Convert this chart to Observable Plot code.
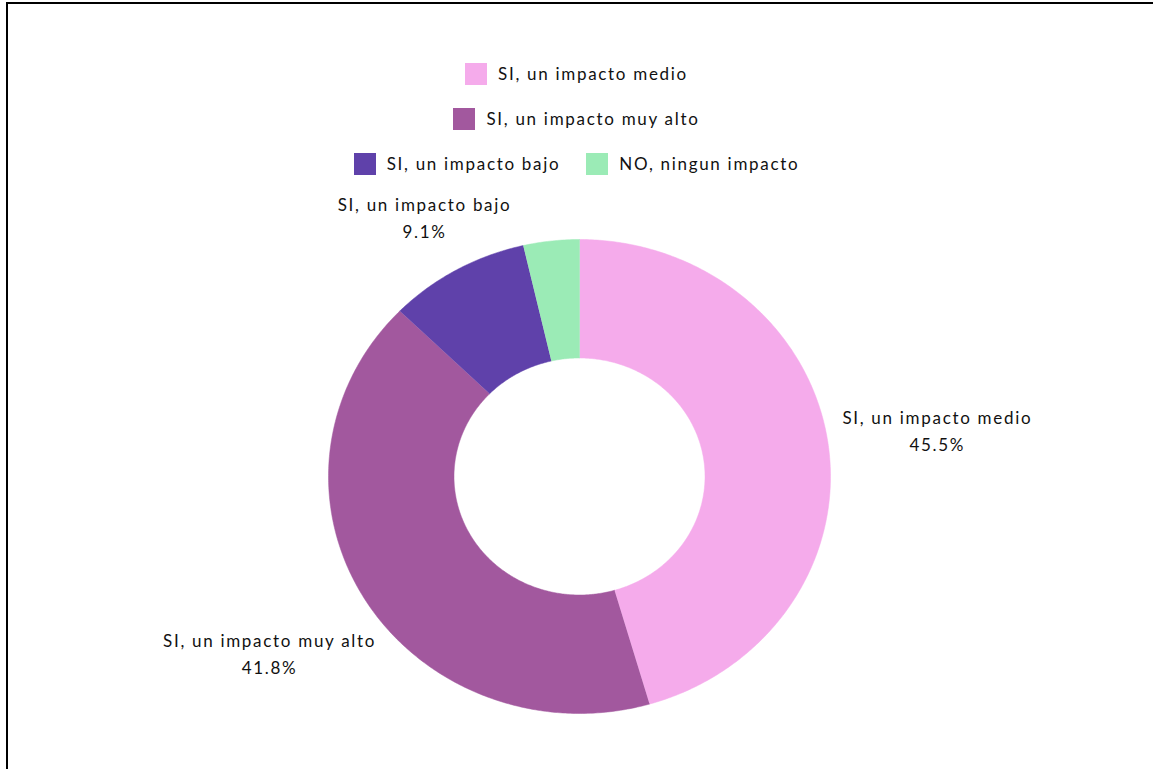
<!DOCTYPE html>
<html><head><meta charset="utf-8">
<script src="https://cdn.jsdelivr.net/npm/d3@7"></script>
<script src="https://cdn.jsdelivr.net/npm/@observablehq/plot@0.6"></script>
<style>
body{margin:0;background:#fff;font-family:Lato,sans-serif;color:#111;}
#wrap{position:relative;width:1153px;height:769px;overflow:hidden;background:#fff;}
#frame{position:absolute;left:6px;top:2px;right:-10px;bottom:-10px;border-top:2px solid #000;border-left:2px solid #000;pointer-events:none;}
#legend{height:190px;box-sizing:border-box;padding-top:51px;}
.row{height:45px;display:flex;justify-content:center;align-items:center;gap:26px;}
.item{display:flex;align-items:center;gap:11px;font-size:17px;letter-spacing:1.7px;}
.sw{width:22px;height:22px;display:inline-block;}
svg{display:block;}
</style></head>
<body>
<div id="wrap"><div id="legend"></div><div id="chart"></div><div id="frame"></div></div>
<script>
const categories = ["SI, un impacto medio", "SI, un impacto muy alto", "SI, un impacto bajo", "NO, ningun impacto"];
const percents = [45.5, 41.8, 9.1, 3.6];
const colors = ["#F5ABEB", "#A2589E", "#5F41AA", "#9BEBB6"];
const labelled = [true, true, true, false];
const legendRows = [[0], [1], [2, 3]];

// layout (not data)
const inner = 0.5;
const labelRadius = [1.44, 1.44, 1.26, 1.2];

const total = d3.sum(percents);
const points = [];
const labels = [];
let cum = 0;
percents.forEach((p, i) => {
  const a0 = cum / total * 2 * Math.PI;
  cum += p;
  const a1 = cum / total * 2 * Math.PI;
  const n = Math.max(8, Math.ceil((a1 - a0) / 0.01));
  for (let k = 0; k <= n; k++) {
    const a = a0 + (a1 - a0) * k / n;
    points.push({cat: categories[i], x: Math.sin(a), y: Math.cos(a)});
  }
  for (let k = n; k >= 0; k--) {
    const a = a0 + (a1 - a0) * k / n;
    points.push({cat: categories[i], x: inner * Math.sin(a), y: inner * Math.cos(a)});
  }
  if (labelled[i]) {
    const m = (a0 + a1) / 2;
    labels.push({text: categories[i] + "\n" + p.toFixed(1) + "%", x: labelRadius[i] * Math.sin(m), y: labelRadius[i] * Math.cos(m)});
  }
});

const chart = Plot.plot({
  width: 1153,
  height: 579,
  marginLeft: 328, marginRight: 323, marginTop: 49, marginBottom: 56,
  x: {domain: [-1, 1], axis: null},
  y: {domain: [-1, 1], axis: null},
  color: {domain: categories, range: colors},
  style: {fontFamily: "Lato, sans-serif", background: "transparent", overflow: "visible"},
  marks: [
    Plot.line(points, {x: "x", y: "y", z: "cat", fill: "cat", stroke: "cat", strokeWidth: 0.5}),
    Plot.text(labels, {x: "x", y: "y", text: "text", fontSize: 17, lineHeight: 1.6, fill: "#111", textAnchor: "middle"})
  ]
});
chart.querySelectorAll("text").forEach(t => t.style.letterSpacing = "1.7px");
document.getElementById("chart").appendChild(chart);

const leg = document.getElementById("legend");
legendRows.forEach(r => {
  const row = document.createElement("div");
  row.className = "row";
  r.forEach(i => {
    const it = document.createElement("div");
    it.className = "item";
    const sw = document.createElement("span");
    sw.className = "sw";
    sw.style.background = colors[i];
    const tx = document.createElement("span");
    tx.textContent = categories[i];
    it.appendChild(sw); it.appendChild(tx);
    row.appendChild(it);
  });
  leg.appendChild(row);
});
</script>
</body></html>
